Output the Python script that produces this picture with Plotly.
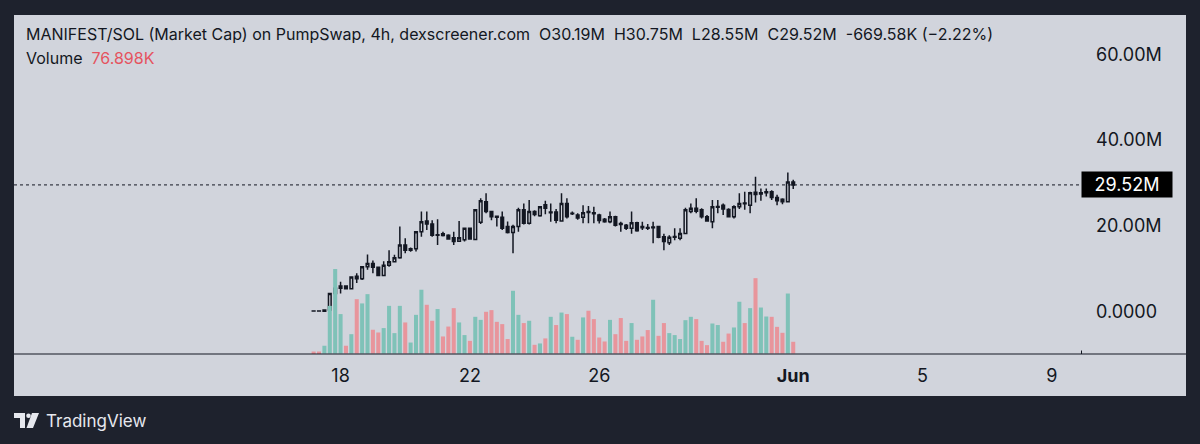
import plotly.graph_objects as go
import pandas as pd

# ---------------- data (market cap in millions, volume in thousands) ----------------
open_m = [0.12, 0.10, 0.05, 0.3, 4.2, 5.4, 5.9, 5.3, 8.2, 7.6,
          10.4, 11.2, 10.3, 8.4, 10.8, 11.6, 12.5, 15.5, 14.3, 14.6,
          18.6, 21.1, 20.4, 17.8, 18.1, 17.8, 17.2, 16.4, 16.7, 19.4,
          16.8, 20.8, 25.6, 23.3, 22.2, 22.0, 19.8, 18.4, 19.8, 23.7,
          20.6, 23.3, 22.3, 24.9, 23.0, 23.2, 21.1, 25.2, 22.8, 22.5,
          22.0, 23.3, 23.0, 22.5, 21.5, 20.9, 22.1, 20.5, 20.1, 19.4,
          20.7, 19.8, 19.6, 19.5, 19.8, 17.4, 16.0, 17.3, 17.1, 18.2,
          23.3, 24.1, 23.7, 22.1, 20.9, 24.3, 24.8, 23.8, 22.1, 24.4,
          25.3, 24.8, 27.8, 27.4, 27.7, 27.9, 26.6, 26.2, 25.6, 30.19]
high_m = [0.12, 0.10, 0.35, 4.3, 5.9, 6.9, 6.1, 8.1, 8.9, 10.6,
          13.3, 11.9, 10.5, 11.7, 14.3, 13.2, 19.8, 17.1, 14.9, 18.7,
          23.3, 23.3, 21.3, 21.5, 18.6, 18.0, 18.6, 21.1, 19.6, 19.6,
          23.9, 26.4, 27.6, 23.5, 22.3, 23.3, 21.0, 20.2, 24.2, 25.2,
          26.0, 23.6, 24.5, 25.8, 25.2, 23.9, 27.6, 26.4, 23.3, 22.9,
          24.8, 24.6, 24.4, 22.8, 21.8, 23.3, 22.3, 20.9, 20.4, 23.3,
          20.9, 20.9, 20.4, 20.9, 20.0, 18.1, 17.8, 19.4, 19.4, 24.2,
          25.2, 26.4, 24.1, 22.5, 26.0, 26.0, 25.2, 24.1, 24.8, 27.6,
          27.9, 27.9, 31.4, 28.7, 28.7, 28.3, 27.2, 26.4, 32.4, 30.75]
low_m = [0.10, 0.09, 0.05, 0.3, 3.3, 4.2, 5.2, 5.2, 6.6, 7.3,
         9.7, 8.9, 8.3, 8.3, 10.4, 11.5, 12.3, 13.6, 13.9, 14.0,
         17.4, 19.0, 17.4, 15.5, 17.5, 16.7, 15.5, 16.2, 16.3, 16.7,
         16.6, 20.4, 22.9, 21.3, 19.8, 19.0, 18.2, 13.6, 18.6, 20.3,
         20.3, 22.2, 22.1, 22.7, 20.9, 20.6, 20.9, 21.7, 22.5, 21.4,
         20.6, 20.6, 20.6, 20.5, 20.7, 20.6, 19.8, 18.6, 19.0, 18.1,
         18.6, 19.0, 19.0, 15.9, 17.1, 14.3, 15.5, 16.6, 16.6, 18.0,
         22.9, 22.9, 21.7, 20.9, 19.4, 22.9, 22.5, 21.9, 21.7, 23.9,
         23.7, 22.9, 25.4, 25.8, 26.8, 26.0, 24.8, 25.0, 25.4, 28.55]
close_m = [0.10, 0.09, 0.30, 4.2, 5.4, 5.9, 5.3, 8.0, 7.6, 10.4,
           11.2, 10.3, 8.4, 10.8, 11.6, 12.5, 15.5, 14.3, 14.6, 18.6,
           20.9, 20.4, 17.8, 17.9, 17.7, 16.9, 16.3, 17.2, 19.4, 16.9,
           23.7, 25.8, 23.3, 22.1, 22.0, 19.4, 18.4, 19.8, 23.7, 20.6,
           23.3, 22.6, 24.4, 24.1, 23.2, 21.3, 25.2, 22.1, 22.9, 21.8,
           23.0, 23.1, 22.8, 21.2, 20.9, 22.1, 20.1, 20.3, 19.4, 20.7,
           18.8, 19.5, 19.4, 19.7, 17.3, 16.3, 17.3, 17.5, 18.2, 23.7,
           24.1, 23.4, 22.1, 21.1, 24.4, 24.5, 23.9, 22.1, 24.4, 25.2,
           25.1, 27.7, 27.3, 27.7, 27.9, 26.6, 25.8, 25.6, 30.19, 29.52]
volume_k = [13, 13, 51, 313, 555, 259, 51, 127, 357, 329,
            390, 156, 138, 167, 313, 134, 313, 204, 72, 254,
            419, 320, 215, 292, 112, 177, 298, 204, 121, 83,
            241, 221, 274, 285, 208, 193, 95, 412, 254, 200,
            215, 57, 66, 99, 241, 187, 269, 259, 110, 90,
            237, 281, 226, 105, 79, 221, 127, 233, 83, 200,
            90, 112, 154, 353, 116, 200, 134, 121, 95, 219,
            241, 226, 83, 55, 197, 187, 77, 131, 171, 340,
            200, 298, 495, 302, 243, 241, 175, 136, 394, 76.898]
times = pd.date_range("2025-05-17 04:00", periods=90, freq="4h")

x_tick_dates = ["2025-05-18", "2025-05-22", "2025-05-26", "2025-06-01", "2025-06-05", "2025-06-09"]
x_tick_text = ["18", "22", "26", "<b>Jun</b>", "5", "9"]
y_tick_vals = [0, 20, 40, 60]
y_tick_text = ["0.0000", "20.00M", "40.00M", "60.00M"]
last_price = 29.52

title_text = ("MANIFEST/SOL (Market Cap) on PumpSwap, 4h, dexscreener.com\u00a0\u00a0O30.19M\u00a0\u00a0H30.75M"
              "\u00a0\u00a0L28.55M\u00a0\u00a0C29.52M\u00a0\u00a0-669.58K (\u22122.22%)")

# ---------------- styling ----------------
DARK = "#1e222d"
PANEL = "#d1d4dc"
INK = "#131722"
UP_VOL = "#7fc2b8"
DOWN_VOL = "#e8959c"
FONT = "Inter, Roboto, Arial, sans-serif"

W, H = 1200, 444
L, R, T, B = 14, 1081, 15, 354


def px(x):
    return (x - L) / (R - L)


def py(y):
    return (B - y) / (B - T)


vol_colors = [UP_VOL if c >= o else DOWN_VOL for o, c in zip(open_m, close_m)]

fig = go.Figure()
fig.add_trace(go.Bar(x=times, y=volume_k, marker=dict(color=vol_colors, line=dict(width=0)),
                     yaxis="y2", hoverinfo="skip", showlegend=False))
fig.add_trace(go.Candlestick(
    x=times, open=open_m, high=high_m, low=low_m, close=close_m,
    increasing=dict(line=dict(color=INK, width=1.5), fillcolor=PANEL),
    decreasing=dict(line=dict(color=INK, width=1.5), fillcolor=INK),
    whiskerwidth=0, showlegend=False, yaxis="y"))

x0 = pd.Timestamp("2025-05-18") - pd.Timedelta(days=10.1)
x1 = pd.Timestamp("2025-05-18") + pd.Timedelta(days=22.9)

shapes = [
    # light panel
    dict(type="rect", xref="paper", yref="paper", x0=px(14), x1=px(1186), y0=py(396), y1=py(15),
         fillcolor=PANEL, line=dict(width=0), layer="below"),
    # bottom axis line
    dict(type="line", xref="paper", yref="paper", x0=px(14), x1=px(1186), y0=py(354), y1=py(354),
         line=dict(color=INK, width=1)),
    dict(type="line", xref="paper", yref="paper", x0=px(1081.5), x1=px(1081.5), y0=py(354), y1=py(350.5),
         line=dict(color=INK, width=1)),
    # last price dotted line
    dict(type="line", xref="paper", yref="y", x0=0, x1=1, y0=last_price, y1=last_price,
         line=dict(color=INK, width=1, dash="dot")),
    # TradingView logo
    dict(type="path", xref="paper", yref="paper",
         path=f"M{px(14)},{py(413)} L{px(25)},{py(413)} L{px(25)},{py(428)} L{px(20)},{py(428)} "
              f"L{px(20)},{py(418)} L{px(14)},{py(418)} Z",
         fillcolor="#e6e8ee", line=dict(width=0)),
    dict(type="circle", xref="paper", yref="paper", x0=px(26.2), x1=px(30.8), y0=py(418), y1=py(413.4),
         fillcolor="#e6e8ee", line=dict(width=0)),
    dict(type="path", xref="paper", yref="paper",
         path=f"M{px(32)},{py(413)} L{px(39)},{py(413)} L{px(33)},{py(428)} L{px(26.5)},{py(428)} Z",
         fillcolor="#e6e8ee", line=dict(width=0)),
]

annotations = [
    dict(xref="paper", yref="paper", x=px(24), y=py(34), xanchor="left", yanchor="middle",
         text=title_text, showarrow=False, font=dict(family=FONT, size=16, color=INK)),
    dict(xref="paper", yref="paper", x=px(24), y=py(58), xanchor="left", yanchor="middle",
         text=f"Volume\u00a0\u00a0<span style='color:#e5535f'>{volume_k[-1]:.3f}K</span>",
         showarrow=False, font=dict(family=FONT, size=16, color=INK)),
    dict(xref="paper", yref="y", x=1, y=last_price, xanchor="left", yanchor="middle",
         text=f"{last_price:.2f}M", showarrow=False, bgcolor="#000000", width=86, borderpad=2,
         font=dict(family=FONT, size=18, color="#ffffff")),
    dict(xref="paper", yref="paper", x=px(44), y=py(421), xanchor="left", yanchor="middle",
         text="TradingView", showarrow=False, font=dict(family=FONT, size=17, color="#e6e8ee")),
]

fig.update_layout(
    width=W, height=H,
    margin=dict(l=L, r=W - R, t=T, b=H - B, pad=0),
    paper_bgcolor=DARK, plot_bgcolor=PANEL,
    showlegend=False, bargap=0.25,
    font=dict(family=FONT, color=INK),
    xaxis=dict(type="date", range=[x0, x1], rangeslider=dict(visible=False),
               tickvals=x_tick_dates, ticktext=x_tick_text, ticks="", ticklabelstandoff=9,
               tickfont=dict(family=FONT, size=18, color=INK),
               showgrid=False, zeroline=False, showline=False, fixedrange=True),
    yaxis=dict(side="right", range=[-9.94, 69.17], tickvals=y_tick_vals, ticktext=y_tick_text,
               ticks="", ticklabelstandoff=14, tickfont=dict(family=FONT, size=18, color=INK),
               showgrid=False, zeroline=False, showline=False, fixedrange=True),
    yaxis2=dict(overlaying="y", range=[-3.3, 2224], visible=False, fixedrange=True),
    shapes=shapes, annotations=annotations,
)

fig.write_html("out.html")
